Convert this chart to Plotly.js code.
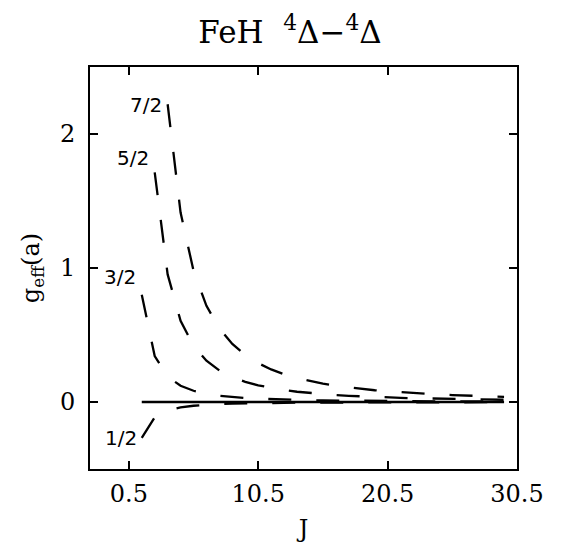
<!DOCTYPE html>
<html><head><meta charset="utf-8">
<script src="https://cdn.plot.ly/plotly-3.0.1.min.js"></script>
<style>html,body{margin:0;padding:0;background:#fff}</style>
</head><body><div id="chart" style="width:562px;height:543px"></div>
<script>
// J values (half-integer), starting at J = 1.5
const J = [1.5,2.5,3.5,4.5,5.5,6.5,7.5,8.5,9.5,10.5,11.5,12.5,13.5,14.5,15.5,16.5,17.5,18.5,19.5,20.5,21.5,22.5,23.5,24.5,25.5,26.5,27.5,28.5,29.5];

// g_eff(a) for each Omega
const g_half = [-0.267,-0.114,-0.0635,-0.0404,-0.028,-0.0205,-0.0157,-0.0124,-0.01,-0.0083,-0.007,-0.0059,-0.0051,-0.0044,-0.0039,-0.0035,-0.0031,-0.0028,-0.0025,-0.0023,-0.0021,-0.0019,-0.0017,-0.0016,-0.0015,-0.0014,-0.0013,-0.0012,-0.0011];
const g_3half = [0.8,0.343,0.19,0.121,0.0839,0.0615,0.0471,0.0372,0.0301,0.0248,0.0209,0.0178,0.0153,0.0133,0.0117,0.0104,0.0093,0.0083,0.0075,0.0068,0.0062,0.0057,0.0052,0.0048,0.0044,0.0041,0.0038,0.0036,0.0033];
const J_5half = [2.5,3.5,4.5,5.5,6.5,7.5,8.5,9.5,10.5,11.5,12.5,13.5,14.5,15.5,16.5,17.5,18.5,19.5,20.5,21.5,22.5,23.5,24.5,25.5,26.5,27.5,28.5,29.5];
const g_5half = [1.714,0.952,0.606,0.42,0.308,0.235,0.186,0.15,0.124,0.104,0.0889,0.0766,0.0667,0.0587,0.0519,0.0463,0.0416,0.0375,0.034,0.031,0.0284,0.0261,0.024,0.0222,0.0206,0.0191,0.0178,0.0167];
const J_7half = [3.5,4.5,5.5,6.5,7.5,8.5,9.5,10.5,11.5,12.5,13.5,14.5,15.5,16.5,17.5,18.5,19.5,20.5,21.5,22.5,23.5,24.5,25.5,26.5,27.5,28.5,29.5];
const g_7half = [2.222,1.414,0.979,0.718,0.549,0.433,0.351,0.29,0.243,0.207,0.179,0.156,0.137,0.121,0.108,0.097,0.0876,0.0794,0.0724,0.0662,0.0608,0.056,0.0518,0.048,0.0447,0.0416,0.0389];
const zeroJ = [1.5, 29.5];
const zeroG = [0, 0];

const omegaLabels = ['1/2','3/2','5/2','7/2'];
const labelJ = [-0.1, -0.15, 0.85, 1.85];
const labelG = [-0.27, 0.93, 1.82, 2.22];

const xTicks = [0.5, 10.5, 20.5, 30.5];
const xTickText = ['0.5','10.5','20.5','30.5'];
const yTicks = [0, 1, 2];
const yTickText = ['0','1','2'];

const dashLine = {color:'#000', width:2.3, dash:'23px,25px'};
const traces = [
  {x:zeroJ, y:zeroG, mode:'lines', line:{color:'#000', width:2.3}, hoverinfo:'skip'},
  {x:J, y:g_half, mode:'lines', line:dashLine},
  {x:J, y:g_3half, mode:'lines', line:dashLine},
  {x:J_5half, y:g_5half, mode:'lines', line:dashLine},
  {x:J_7half, y:g_7half, mode:'lines', line:dashLine}
];

const annotations = omegaLabels.map((t,i)=>({
  x: labelJ[i], y: labelG[i], xref:'x', yref:'y', text:t, showarrow:false,
  xanchor:'center', yanchor:'middle',
  font:{family:'DejaVu Sans', size:20, color:'#000'}
}));

const axisCommon = {
  showline:true, mirror:'ticks', linecolor:'#000', linewidth:2,
  ticks:'inside', ticklen:8, tickwidth:2, tickcolor:'#000',
  showgrid:false, zeroline:false,
  tickfont:{family:'DejaVu Serif', size:24, color:'#000'}
};

const layout = {
  width:562, height:543,
  margin:{l:90, r:45, t:67, b:74},
  paper_bgcolor:'#fff', plot_bgcolor:'#fff',
  showlegend:false,
  title:{text:'FeH  <sup>4</sup>\u0394\u2212<sup>4</sup>\u0394', font:{family:'DejaVu Serif', size:31, color:'#000'},
         x:0.516, xref:'container', xanchor:'center', y:0.94, yref:'container', yanchor:'middle'},
  xaxis:Object.assign({}, axisCommon, {
    range:[-2.5, 30.5], tickmode:'array', tickvals:xTicks, ticktext:xTickText,
    ticklabelstandoff:2,
    title:{text:'J', font:{family:'DejaVu Serif', size:24, color:'#000'}, standoff:22}
  }),
  yaxis:Object.assign({}, axisCommon, {
    range:[-0.5, 2.5], tickmode:'array', tickvals:yTicks, ticktext:yTickText,
    ticklabelstandoff:8,
    title:{text:'g<sub>eff</sub>(a)', font:{family:'DejaVu Serif', size:24, color:'#000'}, standoff:14}
  }),
  annotations:annotations
};

Plotly.newPlot('chart', traces, layout, {staticPlot:true, displayModeBar:false});
</script></body></html>
